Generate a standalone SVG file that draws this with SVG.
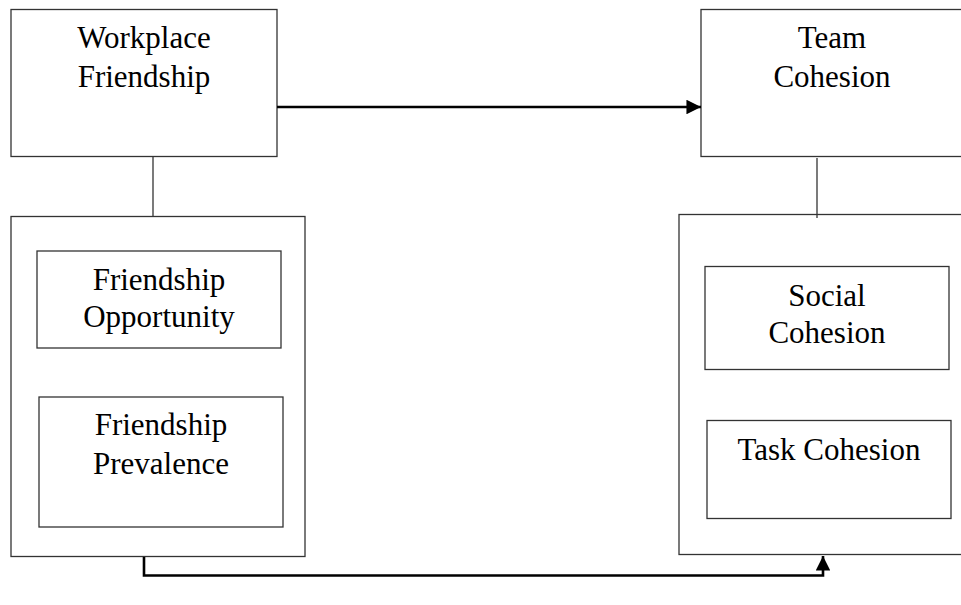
<svg xmlns="http://www.w3.org/2000/svg" width="961" height="605" viewBox="0 0 961 605">
  <style>
    .box { fill: #ffffff; stroke: #333333; stroke-width: 1.3; }
    .lbl { font-family: "Liberation Serif", "Times New Roman", serif; font-size: 31px; fill: #000000; text-anchor: middle; }
    .thin { fill: none; stroke: #333333; stroke-width: 1.3; }
    .flow { fill: none; stroke: #000000; stroke-width: 2.6; }
  </style>
  <defs>
    <marker id="arrow" viewBox="0 0 10 10" refX="10" refY="5" markerWidth="6" markerHeight="5.6" markerUnits="strokeWidth" orient="auto">
      <path d="M0,0 L10,5 L0,10 Z" fill="#000000"/>
    </marker>
  </defs>

  <rect width="961" height="605" fill="#ffffff"/>

  <!-- Left column -->
  <g id="workplace-friendship">
    <rect class="box" x="11" y="9.5" width="266" height="147"/>
    <text class="lbl" x="144" y="48">Workplace</text>
    <text class="lbl" x="144" y="87">Friendship</text>
  </g>

  <g id="friendship-dimensions">
    <rect class="box" x="11" y="216.5" width="294" height="340"/>
  </g>

  <g id="friendship-opportunity">
    <rect class="box" x="37" y="251" width="244" height="97"/>
    <text class="lbl" x="159" y="290">Friendship</text>
    <text class="lbl" x="159" y="327">Opportunity</text>
  </g>

  <g id="friendship-prevalence">
    <rect class="box" x="39" y="397" width="244" height="130"/>
    <text class="lbl" x="161" y="435">Friendship</text>
    <text class="lbl" x="161" y="474">Prevalence</text>
  </g>

  <!-- Right column -->
  <g id="team-cohesion">
    <rect class="box" x="701" y="9.5" width="262" height="147"/>
    <text class="lbl" x="832" y="48">Team</text>
    <text class="lbl" x="832" y="87">Cohesion</text>
  </g>

  <g id="cohesion-dimensions">
    <rect class="box" x="679" y="214.5" width="284" height="340"/>
  </g>

  <g id="social-cohesion">
    <rect class="box" x="705" y="266.5" width="244" height="103"/>
    <text class="lbl" x="827" y="306">Social</text>
    <text class="lbl" x="827" y="343">Cohesion</text>
  </g>

  <g id="task-cohesion">
    <rect class="box" x="707" y="420.5" width="244" height="98"/>
    <text class="lbl" x="829" y="460">Task Cohesion</text>
  </g>

  <!-- Connectors -->
  <g id="connectors">
    <line class="thin" x1="153" y1="156.5" x2="153" y2="216.5"/>
    <line class="thin" x1="817" y1="158" x2="817" y2="218"/>
    <line class="flow" x1="277" y1="107" x2="701" y2="107" marker-end="url(#arrow)"/>
    <polyline class="flow" points="144,557 144,575.5 823,575.5 823,556" marker-end="url(#arrow)"/>
  </g>
</svg>
